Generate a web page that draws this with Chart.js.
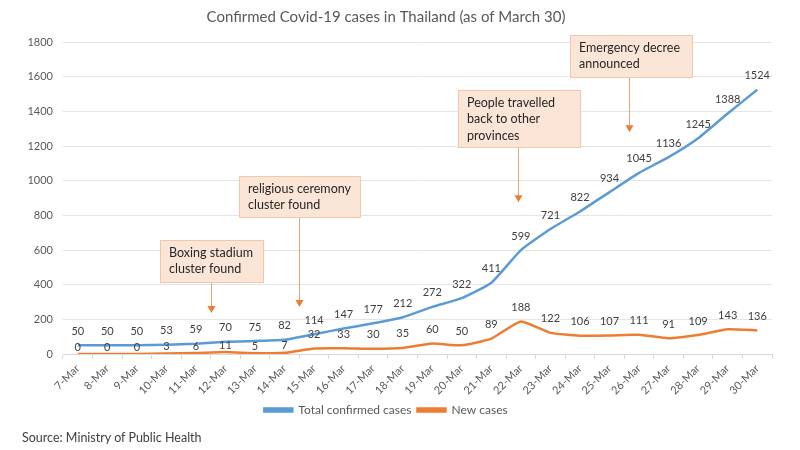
<!DOCTYPE html>
<html>
<head>
<meta charset="utf-8">
<script src="https://cdn.jsdelivr.net/npm/chart.js@4.4.0/dist/chart.umd.min.js"></script>
<style>
  html, body { margin: 0; padding: 0; background: #fff; }
  #wrap { position: relative; width: 800px; height: 450px; }
  #source { position: absolute; left: 22px; top: 430px; font: 12.5px Lato, sans-serif; color: #404040; }
</style>
</head>
<body>
<div id="wrap">
  <canvas id="covidChart" width="800" height="450"></canvas>
  <div id="source">Source: Ministry of Public Health</div>
</div>
<script>
const dates = ['7-Mar', '8-Mar', '9-Mar', '10-Mar', '11-Mar', '12-Mar', '13-Mar', '14-Mar',
    '15-Mar', '16-Mar', '17-Mar', '18-Mar', '19-Mar', '20-Mar', '21-Mar', '22-Mar',
    '23-Mar', '24-Mar', '25-Mar', '26-Mar', '27-Mar', '28-Mar', '29-Mar', '30-Mar'];
const totalCases = [50, 50, 50, 53, 59, 70, 75, 82, 114, 147, 177, 212, 272, 322, 411, 599,
    721, 822, 934, 1045, 1136, 1245, 1388, 1524];
const newCases = [0, 0, 0, 3, 6, 11, 5, 7, 32, 33, 30, 35, 60, 50, 89, 188,
    122, 106, 107, 111, 91, 109, 143, 136];
const yTicks = [0, 200, 400, 600, 800, 1000, 1200, 1400, 1600, 1800];

// callout boxes: x is a category position, top/bottom/tip are in data units
const notes = [
    { text: ['Boxing stadium', 'cluster found'], x: 4.5, top: 657, bottom: 415, tip: 236, left: -52, width: 103 },
    { text: ['religious ceremony', 'cluster found'], x: 7.5, top: 1025, bottom: 789, tip: 271, left: -61, width: 121 },
    { text: ['People travelled', 'back to other', 'provinces'], x: 14.9, top: 1521, bottom: 1192, tip: 876, left: -61, width: 122 },
    { text: ['Emergency decree', 'announced'], x: 18.65, top: 1838, bottom: 1596, tip: 1279, left: -60, width: 122 }
];

const FONT = 'Lato, sans-serif';

const valueLabels = {
    id: 'valueLabels',
    afterDatasetsDraw(chart) {
        const ctx = chart.ctx;
        ctx.save();
        ctx.font = '11px ' + FONT;
        ctx.fillStyle = '#404040';
        ctx.textAlign = 'center';
        ctx.textBaseline = 'middle';
        chart.data.datasets.forEach((ds, di) => {
            const meta = chart.getDatasetMeta(di);
            meta.data.forEach((pt, i) => {
                let off = 14;
                if (di === 1 && i < 8) off = 7;
                ctx.fillText(String(ds.data[i]), pt.x, pt.y - off);
            });
        });
        ctx.restore();
    }
};

const callouts = {
    id: 'callouts',
    afterDraw(chart) {
        const ctx = chart.ctx;
        const xs = chart.scales.x;
        const ys = chart.scales.y;
        ctx.save();
        notes.forEach(n => {
            const ax = Math.round(xs.getPixelForValue(n.x)) + 0.5;
            const top = Math.round(ys.getPixelForValue(n.top)) + 0.5;
            const bottom = Math.round(ys.getPixelForValue(n.bottom)) + 0.5;
            const tip = ys.getPixelForValue(n.tip);
            const left = Math.round(ax + n.left);

            // arrow shaft + head
            ctx.strokeStyle = '#e3a67a';
            ctx.lineWidth = 1;
            ctx.beginPath();
            ctx.moveTo(ax, bottom);
            ctx.lineTo(ax, tip - 6);
            ctx.stroke();
            ctx.fillStyle = '#ed7d31';
            ctx.beginPath();
            ctx.moveTo(ax - 4, tip - 7);
            ctx.lineTo(ax + 4, tip - 7);
            ctx.lineTo(ax, tip);
            ctx.closePath();
            ctx.fill();

            // box
            ctx.fillStyle = '#fbe5d6';
            ctx.fillRect(left, top, n.width, bottom - top);
            ctx.strokeStyle = '#f4c7a8';
            ctx.strokeRect(left + 0.5, top, n.width, bottom - top);

            ctx.fillStyle = '#262626';
            ctx.font = '12.5px ' + FONT;
            ctx.textAlign = 'left';
            ctx.textBaseline = 'middle';
            n.text.forEach((line, k) => {
                ctx.fillText(line, left + 9, top + 12 + k * 16.5);
            });
        });
        ctx.restore();
    }
};

new Chart(document.getElementById('covidChart'), {
    type: 'line',
    data: {
        labels: dates,
        datasets: [
            {
                label: 'Total confirmed cases',
                data: totalCases,
                borderColor: '#5b9bd5',
                backgroundColor: '#5b9bd5',
                borderWidth: 2.5,
                pointRadius: 0,
                tension: 0.15
            },
            {
                label: 'New cases',
                data: newCases,
                borderColor: '#ed7d31',
                backgroundColor: '#ed7d31',
                borderWidth: 2.5,
                pointRadius: 0,
                tension: 0.15
            }
        ]
    },
    options: {
        responsive: false,
        animation: false,
        layout: { padding: { left: 0, right: 28, top: 0, bottom: 24 } },
        plugins: {
            title: {
                display: true,
                text: 'Confirmed Covid-19 cases in Thailand (as of March 30)',
                color: '#595959',
                font: { family: FONT, size: 15, weight: 'normal' },
                padding: { top: 8, bottom: 16 }
            },
            legend: {
                position: 'bottom',
                labels: {
                    color: '#595959',
                    font: { family: FONT, size: 12 },
                    boxWidth: 28,
                    boxHeight: 3,
                    padding: 6
                }
            },
            tooltip: { enabled: false }
        },
        scales: {
            x: {
                offset: true,
                border: { display: true, color: '#d9d9d9' },
                grid: { display: true, drawOnChartArea: false, drawTicks: true, tickLength: 5, color: '#d9d9d9', offset: true },
                ticks: {
                    color: '#595959',
                    font: { family: FONT, size: 11 },
                    maxRotation: 45,
                    minRotation: 45,
                    autoSkip: false
                },
                afterFit: (s) => { s.height = 44; }
            },
            y: {
                min: 0,
                max: 1800,
                afterBuildTicks: (s) => { s.ticks = yTicks.map(v => ({ value: v })); },
                border: { display: false },
                grid: { color: '#e5e5e5', drawTicks: false },
                ticks: {
                    color: '#595959',
                    font: { family: FONT, size: 11 },
                    padding: 10,
                    callback: (v) => String(v)
                },
                afterFit: (s) => { s.width = 63; }
            }
        }
    },
    plugins: [valueLabels, callouts]
});
</script>
</body>
</html>
